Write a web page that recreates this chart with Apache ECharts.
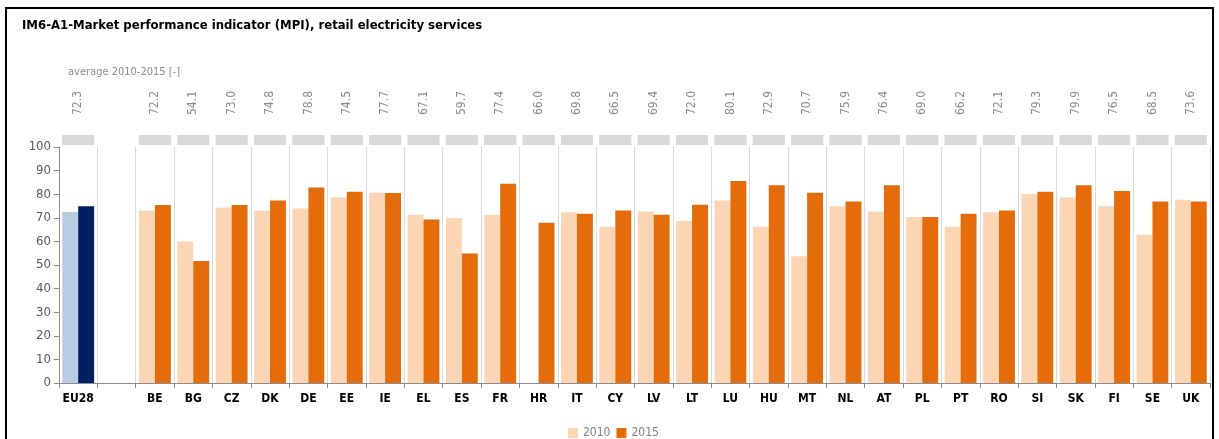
<!DOCTYPE html>
<html>
<head>
<meta charset="utf-8">
<script src="https://cdn.jsdelivr.net/npm/echarts@6/dist/echarts.min.js"></script>
<style>
  html, body { margin: 0; padding: 0; background: #fff; }
  #chart { width: 1219px; height: 439px; }
</style>
</head>
<body>
<div id="chart"></div>
<script>
// data
const countries = ["EU28", "", "BE", "BG", "CZ", "DK", "DE", "EE", "IE", "EL", "ES", "FR", "HR", "IT", "CY",
  "LV", "LT", "LU", "HU", "MT", "NL", "AT", "PL", "PT", "RO", "SI", "SK", "FI", "SE", "UK"];
const values2010 = [72.5, null, 73.1, 60.0, 74.4, 73.1, 73.9, 78.6, 80.6, 71.3, 69.9, 71.3, null, 72.3, 66.2,
  72.7, 68.6, 77.3, 66.2, 53.7, 74.9, 72.7, 70.3, 66.2, 72.3, 80.1, 78.6, 74.9, 62.8, 77.7];
const values2015 = [74.9, null, 75.4, 51.7, 75.4, 77.3, 82.8, 81.0, 80.5, 69.3, 54.9, 84.4, 67.9, 71.7, 73.1,
  71.3, 75.5, 85.6, 83.8, 80.6, 76.9, 83.8, 70.3, 71.7, 73.1, 81.0, 83.8, 81.4, 76.9, 76.9];
const averages = ["72.3", null, "72.2", "54.1", "73.0", "74.8", "78.8", "74.5", "77.7", "67.1", "59.7", "77.4",
  "66.0", "69.8", "66.5", "69.4", "72.0", "80.1", "72.9", "70.7", "75.9", "76.4", "69.0", "66.2", "72.1",
  "79.3", "79.9", "76.5", "68.5", "73.6"];
const yTicks = { min: 0, max: 100, interval: 10 };

const font = "'Liberation Sans Narrow', 'DejaVu Sans Condensed', sans-serif";

const chart = echarts.init(document.getElementById("chart"));

const toItems = (arr, euColor) => arr.map((v, i) => {
  if (v === null) return "-";
  if (i === 0) return { value: v, itemStyle: { color: euColor } };
  return v;
});

const option = {
  animation: false,
  textStyle: { fontFamily: font },
  title: {
    text: "IM6-A1-Market performance indicator (MPI), retail electricity services",
    left: 17,
    top: 14,
    textStyle: { fontSize: 13, fontWeight: "bold", color: "#000", fontFamily: font },
  },
  graphic: [
    {
      type: "rect",
      shape: { x: 6, y: 8, width: 1207, height: 440 },
      style: { fill: "none", stroke: "#000", lineWidth: 2 },
      silent: true,
    },
    {
      type: "text",
      left: 68,
      top: 67,
      style: { text: "average 2010-2015 [-]", fill: "#8c8c8c", fontSize: 11, fontFamily: font },
    },
  ],
  legend: {
    data: ["2010", "2015"],
    left: 563,
    top: 422,
    icon: "rect",
    itemWidth: 10,
    itemHeight: 10,
    itemGap: 6,
    textStyle: { color: "#7f7f7f", fontSize: 12, fontFamily: font },
  },
  grid: [
    { left: 59, right: 9, top: 147, bottom: 56 },
    { left: 59, right: 9, top: 135, height: 10 },
  ],
  xAxis: [
    {
      type: "category",
      gridIndex: 0,
      data: countries,
      axisLine: { lineStyle: { color: "#8c8c8c", width: 1 } },
      axisTick: { show: true, interval: 0, length: 5, lineStyle: { color: "#8c8c8c" } },
      splitLine: { show: true, interval: 0, lineStyle: { color: "#d9d9d9", width: 1 } },
      axisLabel: { interval: 0, color: "#000", fontWeight: "bold", fontSize: 12, margin: 10, fontFamily: font },
    },
    {
      type: "category",
      gridIndex: 1,
      data: countries,
      show: false,
    },
  ],
  yAxis: [
    {
      type: "value",
      gridIndex: 0,
      min: yTicks.min,
      max: yTicks.max,
      interval: yTicks.interval,
      axisLine: { show: true, lineStyle: { color: "#8c8c8c" } },
      axisTick: { show: true, length: 5, lineStyle: { color: "#8c8c8c" } },
      splitLine: { show: false },
      axisLabel: { color: "#595959", fontSize: 13, margin: 8, fontFamily: font },
    },
    { type: "value", gridIndex: 1, min: 0, max: 1, show: false },
  ],
  series: [
    {
      name: "2010",
      type: "bar",
      xAxisIndex: 0,
      yAxisIndex: 0,
      data: toItems(values2010, "#b8cce4"),
      itemStyle: { color: "#fcd5b5" },
      barGap: "0%",
      barCategoryGap: "17%",
    },
    {
      name: "2015",
      type: "bar",
      xAxisIndex: 0,
      yAxisIndex: 0,
      data: toItems(values2015, "#002060"),
      itemStyle: { color: "#e46c0a" },
    },
    {
      name: "average",
      type: "bar",
      xAxisIndex: 1,
      yAxisIndex: 1,
      data: averages.map((a) => (a === null ? "-" : 1)),
      itemStyle: { color: "#d9d9d9" },
      barCategoryGap: "16%",
      label: {
        show: true,
        position: "top",
        rotate: 90,
        distance: 20,
        align: "left",
        verticalAlign: "middle",
        color: "#8c8c8c",
        fontSize: 12,
        fontFamily: font,
        formatter: (p) => averages[p.dataIndex],
      },
      silent: true,
    },
  ],
};

chart.setOption(option);
</script>
</body>
</html>
